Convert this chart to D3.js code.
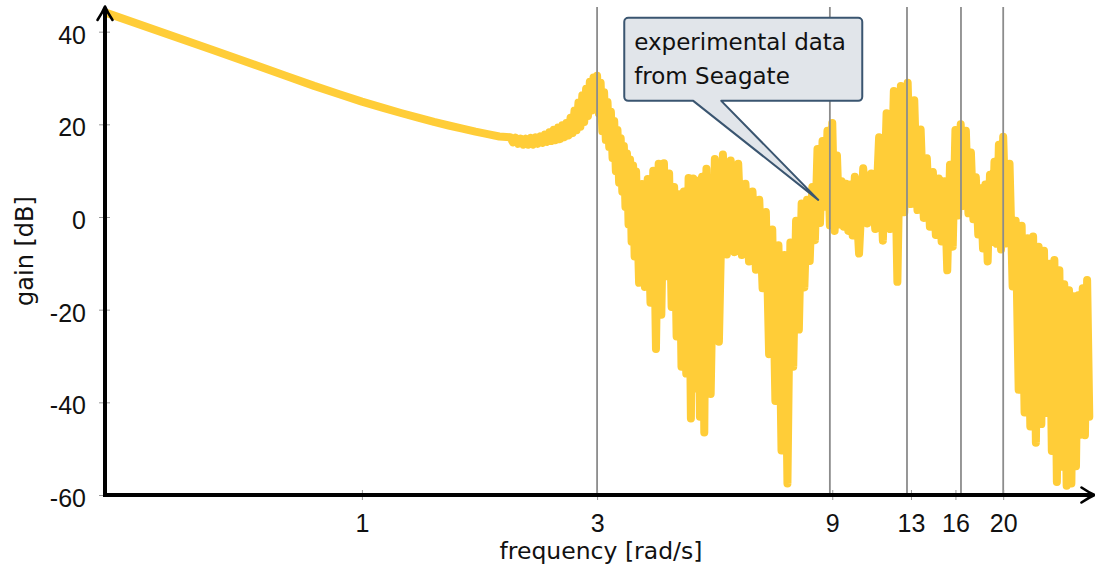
<!DOCTYPE html>
<html>
<head>
<meta charset="utf-8">
<script src="https://cdn.jsdelivr.net/npm/d3@7"></script>
<style>
  html, body { margin: 0; padding: 0; background: #ffffff; }
  svg { display: block; }
</style>
</head>
<body>
<svg id="chart" width="1095" height="567"></svg>
<script>
// Measured frequency response: frequency in rad/s, gain in dB.
// From 2 rad/s on the record alternates between the upper and lower
// edge of the scatter of repeated measurements.
const freq = [
  0.304, 0.5, 0.7, 0.8, 0.9, 1.0, 1.1, 1.2, 1.3, 1.4, 1.5, 1.6, 1.7, 1.8, 1.9,
  2.0, 2.025, 2.05, 2.075, 2.1, 2.125, 2.15, 2.175, 2.2, 2.225, 2.25, 2.275, 2.3, 2.325, 2.35, 2.375, 2.4, 2.425, 2.45, 2.475,
  2.5, 2.525, 2.55, 2.575, 2.6, 2.625, 2.65, 2.675, 2.7, 2.725, 2.75, 2.775, 2.8, 2.825, 2.85, 2.875, 2.9, 2.925, 2.95, 2.975, 3.0,
  3.025, 3.05, 3.075, 3.1, 3.125, 3.15, 3.175, 3.2, 3.225, 3.25, 3.275, 3.3, 3.325, 3.35, 3.375, 3.4, 3.425, 3.45, 3.475, 3.5,
  3.525, 3.55, 3.575, 3.6, 3.65, 3.7, 3.75, 3.8, 3.85, 3.9, 3.95, 4.0,
  4.05, 4.1, 4.15, 4.2, 4.25, 4.3, 4.35, 4.4, 4.45, 4.5, 4.55, 4.6, 4.65, 4.7, 4.75, 4.8, 4.85, 4.9, 4.95, 5.0,
  5.1, 5.2, 5.3, 5.4, 5.5, 5.6, 5.7, 5.8, 5.9, 6.0, 6.1, 6.2, 6.3, 6.4, 6.5, 6.6, 6.7, 6.8, 6.9, 7.0,
  7.1, 7.2, 7.3, 7.4, 7.5, 7.6, 7.7, 7.8, 7.9, 8.0, 8.1, 8.2, 8.3, 8.4, 8.5, 8.6, 8.7, 8.8, 8.9, 9.0,
  9.1, 9.2, 9.3, 9.4, 9.5, 9.6, 9.7, 9.8, 9.9, 10.0,
  10.2, 10.4, 10.6, 10.8, 11.0, 11.2, 11.4, 11.6, 11.8, 12.0, 12.2, 12.4, 12.6, 12.8, 13.0, 13.2, 13.4, 13.6, 13.8, 14.0,
  14.2, 14.4, 14.6, 14.8, 15.0, 15.2, 15.4, 15.6, 15.8, 16.0, 16.2, 16.4, 16.6, 16.8, 17.0, 17.2, 17.4, 17.6, 17.8, 18.0,
  18.2, 18.4, 18.6, 18.8, 19.0, 19.2, 19.4, 19.6, 19.8, 20.0,
  20.3, 20.6, 20.9, 21.2, 21.5, 21.8, 22.1, 22.4, 22.7, 23.0, 23.3, 23.6, 23.9, 24.2, 24.5, 24.8, 25.1, 25.4, 25.7, 26.0,
  26.3, 26.6, 26.9, 27.2, 27.5, 27.8, 28.1, 28.4, 28.7, 29.0, 29.3, 29.6, 29.9
];
const gain = [
  44.0, 36.0, 30.5, 28.3, 26.5, 24.9, 23.6, 22.45, 21.46, 20.52, 19.75, 19.06, 18.41, 17.87, 17.38,
  17.2, 16.1, 17.1, 15.8, 16.9, 15.6, 16.9, 15.6, 17.1, 15.6, 17.2, 15.8, 17.4, 16.0, 17.8, 16.2, 18.3, 16.4, 18.8, 16.6,
  19.3, 16.8, 19.8, 17.2, 20.3, 17.6, 21.4, 18.1, 23.0, 18.7, 24.7, 19.5, 26.3, 20.5, 27.7, 21.8, 29.2, 23.0, 30.1, 23.9, 30.5,
  22.3, 29.0, 18.5, 26.9, 16.6, 24.8, 15.1, 22.7, 12.7, 20.7, 9.9, 18.8, 7.4, 17.0, 5.5, 15.3, 2.2, 13.7, -1.6, 12.4,
  -5.3, 11.1, -8.5, 9.8, -14.2, 7.1, -15.1, 8.2, -18.5, 10.0, -28.5, 11.5,
  -21.1, 11.6, -12.8, 9.4, -19.4, 6.5, -25.8, 4.9, -32.3, 5.5, -33.8, 8.4, -43.5, 8.3, -37.0, 7.8, -43.1, 8.7, -46.5, 10.4,
  -38.2, 12.5, -26.9, 13.5, -8.1, 12.2, -7.6, 11.5, -8.2, 7.2, -9.6, 5.5, -11.4, 3.7, -15.4, 1.1, -29.6, -2.7, -39.7, -6.1,
  -50.4, -8.2, -57.5, -5.5, -32.3, -0.8, -24.3, 2.9, -15.2, 3.7, -9.5, 6.5, -5.0, 14.7, -1.3, 16.4, 2.2, 18.6, -1.8, 20.3,
  -3.0, 13.3, -1.6, 7.7, -2.1, 7.2, -3.0, 7.0, -4.0, 8.7,
  -7.9, 10.5, -1.4, 9.4, -2.6, 17.2, -5.1, 22.4, -2.6, 27.2, -14.0, 28.3, 1.0, 29.0, 2.8, 25.2, 1.5, 18.9, -0.2, 12.7,
  -2.1, 9.7, -3.9, 8.3, -5.3, 7.7, -11.5, 11.3, -6.4, 18.8, 0.3, 20.0, 2.4, 18.6, 0.8, 13.9, -0.5, 8.6, -3.8, 6.2,
  -6.8, 7.0, -9.6, 9.1, -5.4, 11.9, -5.8, 15.6, -7.0, 17.3,
  -5.7, 11.5, -15.0, -0.8, -37.3, -1.9, -42.2, -4.6, -45.2, -4.2, -48.7, -6.4, -44.7, -7.3, -42.3, -10.1, -50.5, -9.3, -57.2, -11.5,
  -53.9, -14.5, -58.0, -15.8, -57.5, -17.1, -53.8, -16.9, -47.0, -15.4, -47.1, -13.6, -43.1
];

// Axis ticks and reference frequencies
const xTickValues = [1, 3, 9, 13, 16, 20];
const xTickLabels = ["1", "3", "9", "13", "16", "20"];
const yTickValues = [-60, -40, -20, 0, 20, 40];
const yTickLabels = ["-60", "-40", "-20", "0", "20", "40"];
const gridFreqs = [3, 8.9, 12.76, 16.42, 20];

// Callout
const noteLines = ["experimental data", "from Seagate"];
const noteAnchor = { freq: 8.43, gain: 3.7 };

const svg = d3.select("#chart");
const x = d3.scaleLog().domain([0.304, 30]).range([107, 1090]);
const y = d3.scaleLinear().domain([-60, 45]).range([495, 8.5]);

const axisX = x.range()[0] - 2;
const axisY = y(-60);
const tickFont = "'Liberation Sans', Arial, sans-serif";
const textFont = "'DejaVu Sans', sans-serif";

// Measured response
const points = d3.zip(freq, gain);
svg.append("path")
  .datum(points)
  .attr("d", d3.line().x(d => x(d[0])).y(d => y(d[1])))
  .attr("fill", "none")
  .attr("stroke", "#ffcd38")
  .attr("stroke-width", 8)
  .attr("stroke-linejoin", "round")
  .attr("stroke-linecap", "round");

// Vertical reference lines at the resonance frequencies
svg.append("g")
  .selectAll("line")
  .data(gridFreqs)
  .join("line")
  .attr("x1", d => x(d)).attr("x2", d => x(d))
  .attr("y1", 7).attr("y2", axisY)
  .attr("stroke", "#8c8c8c")
  .attr("stroke-width", 1.8);

// x axis ticks and labels
const gx = svg.append("g")
  .attr("transform", `translate(0,${axisY})`)
  .call(d3.axisBottom(x)
    .tickValues(xTickValues)
    .tickFormat((d, i) => xTickLabels[i])
    .tickSizeOuter(0)
    .tickSizeInner(5));
gx.select(".domain").remove();
gx.selectAll(".tick line")
  .attr("y1", -5).attr("y2", 5)
  .attr("stroke", "#9a9a9a").attr("stroke-width", 1);
gx.selectAll(".tick text")
  .attr("y", 36.5).attr("dy", null)
  .attr("fill", "#111")
  .style("font-family", tickFont)
  .style("font-size", "25px");

// y axis ticks and labels
const gy = svg.append("g")
  .attr("transform", `translate(${axisX},0)`)
  .call(d3.axisLeft(y)
    .tickValues(yTickValues)
    .tickFormat((d, i) => yTickLabels[i])
    .tickSizeOuter(0)
    .tickSizeInner(6));
gy.select(".domain").remove();
gy.selectAll(".tick line")
  .attr("x1", -6).attr("x2", 5)
  .attr("stroke", "#9a9a9a").attr("stroke-width", 1);
gy.selectAll(".tick text")
  .attr("x", -19).attr("dy", "0.46em")
  .attr("fill", "#111")
  .style("font-family", tickFont)
  .style("font-size", "25px");

// Axis lines with arrow tips
svg.append("line")
  .attr("x1", axisX - 2).attr("x2", 1092)
  .attr("y1", axisY).attr("y2", axisY)
  .attr("stroke", "#000").attr("stroke-width", 4);
svg.append("line")
  .attr("x1", axisX).attr("x2", axisX)
  .attr("y1", axisY + 2).attr("y2", 9)
  .attr("stroke", "#000").attr("stroke-width", 4);
svg.append("path")
  .attr("d", `M1081.5,487.5 Q1089,492.5 1094.5,${axisY} Q1089,497.5 1081.5,502.5`)
  .attr("fill", "none").attr("stroke", "#000").attr("stroke-width", 2.6)
  .attr("stroke-linecap", "round").attr("stroke-linejoin", "round");
svg.append("path")
  .attr("d", `M${axisX - 7.5},20 Q${axisX - 2.5},12.5 ${axisX},6.5 Q${axisX + 2.5},12.5 ${axisX + 7.5},20`)
  .attr("fill", "none").attr("stroke", "#000").attr("stroke-width", 2.6)
  .attr("stroke-linecap", "round").attr("stroke-linejoin", "round");

// Axis titles
svg.append("text")
  .attr("transform", "translate(33,251) rotate(-90)")
  .attr("text-anchor", "middle")
  .attr("fill", "#111")
  .style("font-family", textFont)
  .style("font-size", "24px")
  .text("gain [dB]");
svg.append("text")
  .attr("x", 601).attr("y", 559)
  .attr("text-anchor", "middle")
  .attr("fill", "#111")
  .style("font-family", textFont)
  .style("font-size", "23.5px")
  .text("frequency [rad/s]");

// Callout box pointing into the measured data
const tipX = x(noteAnchor.freq), tipY = y(noteAnchor.gain);
const bx = tipX - 194, by = tipY - 182, bw = 238, bh = 83, r = 4;
const bb = by + bh, p1 = bx + 69, p2 = bx + 97;
const calloutPath =
  `M${bx + r},${by} H${bx + bw - r} A${r},${r} 0 0 1 ${bx + bw},${by + r}` +
  ` V${bb - r} A${r},${r} 0 0 1 ${bx + bw - r},${bb}` +
  ` H${p2} L${tipX},${tipY} L${p1},${bb}` +
  ` H${bx + r} A${r},${r} 0 0 1 ${bx},${bb - r}` +
  ` V${by + r} A${r},${r} 0 0 1 ${bx + r},${by} Z`;
svg.append("path")
  .attr("d", calloutPath)
  .attr("fill", "#e1e5ea")
  .attr("stroke", "#3a5570")
  .attr("stroke-width", 2)
  .attr("stroke-linejoin", "round");
svg.append("g")
  .selectAll("text")
  .data(noteLines)
  .join("text")
  .attr("x", bx + 10)
  .attr("y", (d, i) => by + 32 + i * 34)
  .attr("fill", "#111")
  .style("font-family", textFont)
  .style("font-size", "23px")
  .text(d => d);
</script>
</body>
</html>
